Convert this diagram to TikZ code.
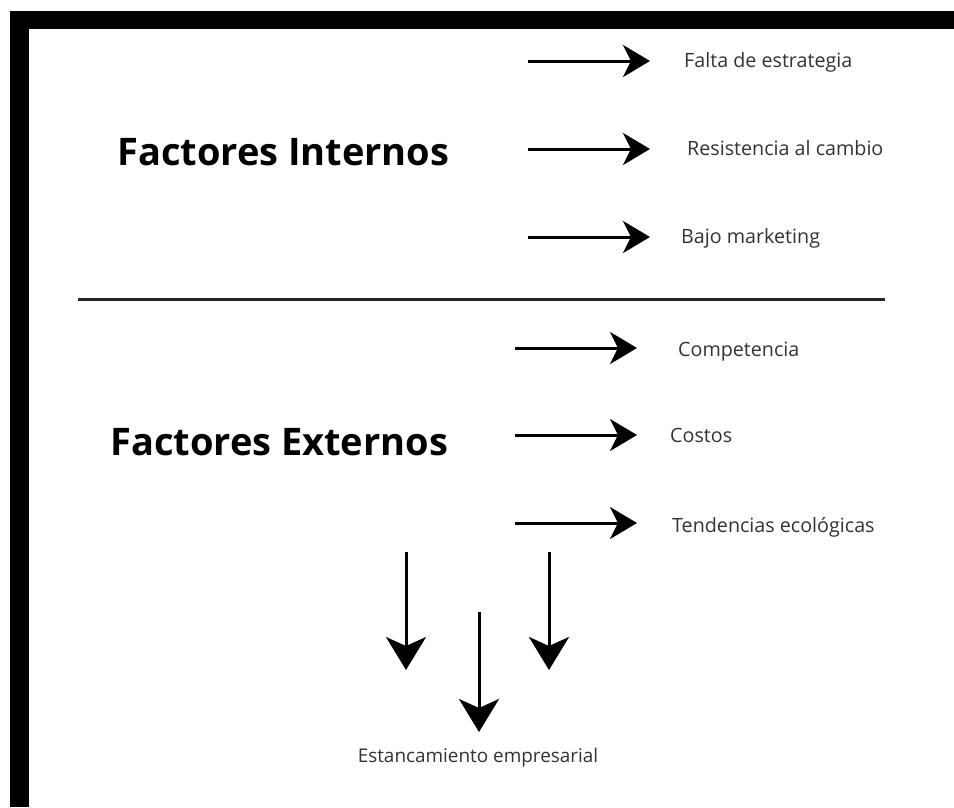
\documentclass[tikz,border=0pt]{standalone}
\usepackage{fontspec}
\setmainfont{Open Sans}
\usetikzlibrary{arrows.meta}
\tikzset{
  harrow/.style={line width=3pt, -{Stealth[length=27pt,width=32pt,inset=8pt]}},
  varrow/.style={line width=3pt, -{Stealth[length=33pt,width=40pt,inset=9pt]}},
  item/.style={anchor=base west, inner sep=0pt, font=\fontsize{19.7}{23}\selectfont, text=black!80},
  title/.style={anchor=base west, inner sep=0pt, font=\fontsize{38}{44}\selectfont\bfseries, text=black},
}
\begin{document}
\begin{tikzpicture}[x=1pt,y=-1pt]
\useasboundingbox (0,0) rectangle (954,807);
\fill[white] (0,0) rectangle (954,807);
% frame
\fill[black] (10,11) rectangle (954,29);
\fill[black] (10,11) rectangle (29,807);
% titles
\node[title] (ti) at (117,165) {Factores Internos};
\node[title] (te) at (110,455) {Factores Externos};
% internal items
\node[item] (i1) at (684,67) {Falta de estrategia};
\node[item] (i2) at (687,155) {Resistencia al cambio};
\node[item] (i3) at (681,243) {Bajo marketing};
\coordinate (a1s) at (528,61);  \coordinate (a1e) at (650,61);
\coordinate (a2s) at (528,149); \coordinate (a2e) at (650,149);
\coordinate (a3s) at (528,237); \coordinate (a3e) at (650,237);
\draw[harrow] (a1s) -- (a1e);
\draw[harrow] (a2s) -- (a2e);
\draw[harrow] (a3s) -- (a3e);
% divider
\coordinate (dl) at (78,299); \coordinate (dr) at (885,299);
\draw[line width=3pt, black!85] (dl) -- (dr);
% external items
\node[item] (e1) at (678,356) {Competencia};
\node[item] (e2) at (670,442) {Costos};
\node[item] (e3) at (672,532) {Tendencias ecológicas};
\coordinate (b1s) at (515,348); \coordinate (b1e) at (637,348);
\coordinate (b2s) at (515,435); \coordinate (b2e) at (637,435);
\coordinate (b3s) at (515,523); \coordinate (b3e) at (637,523);
\draw[harrow] (b1s) -- (b1e);
\draw[harrow] (b2s) -- (b2e);
\draw[harrow] (b3s) -- (b3e);
% vertical arrows
\coordinate (v1s) at (406,552); \coordinate (v1e) at (406,670);
\coordinate (v2s) at (549,552); \coordinate (v2e) at (549,670);
\coordinate (v3s) at (479,612); \coordinate (v3e) at (479,732);
\draw[varrow] (v1s) -- (v1e);
\draw[varrow] (v2s) -- (v2e);
\draw[varrow] (v3s) -- (v3e);
\node[item, anchor=base, font=\fontsize{18.9}{22}\selectfont] (res) at (478,762) {Estancamiento empresarial};
\end{tikzpicture}
\end{document}
